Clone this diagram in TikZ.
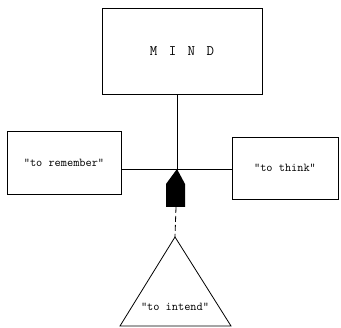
\documentclass[tikz,border=0pt]{standalone}
\usepackage{fontspec}
\usetikzlibrary{positioning}
\tikzset{
  box/.style={draw, line width=0.8pt, inner sep=0pt, font=\ttfamily\fontsize{12}{14}\selectfont},
  link/.style={line width=0.8pt}
}

\begin{document}
\begin{tikzpicture}[x=1pt, y=-1pt]
\useasboundingbox (0,0) rectangle (341,328);
% Mind box on top
\node[box, minimum width=160, minimum height=86, font=\ttfamily\fontsize{14.5}{16}\selectfont] (mind) at (182,51) {M\hspace{4pt} I\hspace{4pt} N\hspace{4pt} D};
% Side boxes
\node[box, minimum width=114, minimum height=63] (remember) at (64,163) {"to remember"};
\node[box, minimum width=106, minimum height=62] (think) at (285,168) {"to think"};
\coordinate (joint) at (177,169);
\draw[link] (joint |- mind.south) -- (joint);
\draw[link] (remember.east |- joint) -- (think.west |- joint);
% Arrow head below the joint
\fill (joint) -- ++(8,15) -- ++(0,23) -- ++(-19,0) -- ++(0,-23) -- cycle;
\coordinate (tail) at (176,207);
% Triangle
\coordinate (apex) at (175,237);
\draw[link, line join=miter] (apex) -- (231,326) -- (120,326) -- cycle;
\node[font=\ttfamily\fontsize{12}{14}\selectfont] (intend) at (175,307) {"to intend"};
\draw[link, dash pattern=on 6pt off 3pt] (tail) -- (apex);
\end{tikzpicture}
\end{document}
